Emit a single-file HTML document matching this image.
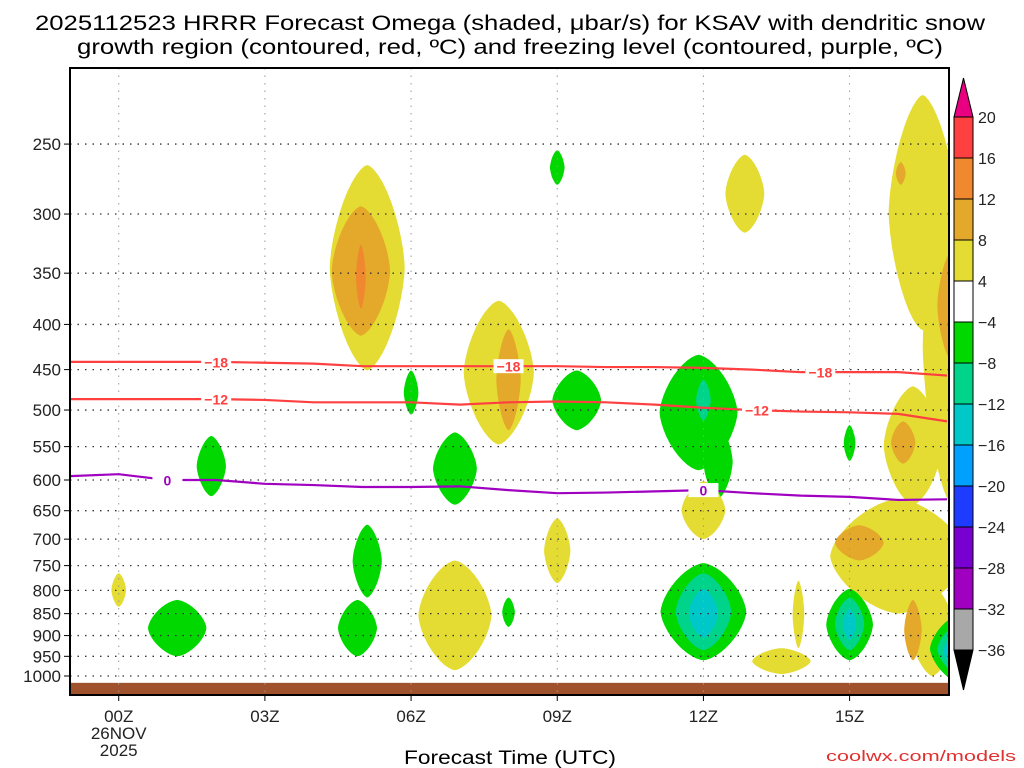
<!DOCTYPE html>
<html><head><meta charset="utf-8"><style>
html,body{margin:0;padding:0;background:#fff;}
svg{display:block;font-family:"Liberation Sans",sans-serif;}
</style></head><body>
<svg id="chart" width="1024" height="768" viewBox="0 0 1024 768" xmlns="http://www.w3.org/2000/svg">
<text x="35" y="30" font-size="21" textLength="950" lengthAdjust="spacingAndGlyphs">2025112523 HRRR Forecast Omega (shaded, μbar/s) for KSAV with dendritic snow</text>
<text x="77" y="54" font-size="21" textLength="866" lengthAdjust="spacingAndGlyphs">growth region (contoured, red, ºC) and freezing level (contoured, purple, ºC)</text>
<defs><clipPath id="plotclip"><rect x="70" y="68" width="879" height="627"/></clipPath></defs>
<g id="shades" clip-path="url(#plotclip)"></g>
<g id="grid"></g>
<g id="lines" clip-path="url(#plotclip)"></g>
<g id="axes"></g>
<g id="cbar"></g>
<text x="510" y="764" font-size="19" text-anchor="middle" textLength="212" lengthAdjust="spacingAndGlyphs">Forecast Time (UTC)</text>
<text x="1016" y="761" font-size="15" fill="#e03030" text-anchor="end" textLength="190" lengthAdjust="spacingAndGlyphs">coolwx.com/models</text>
</svg>
<script>
// ---- data ----
const pressureTicks = [250,300,350,400,450,500,550,600,650,700,750,800,850,900,950,1000];
const timeTicks = [0,3,6,9,12,15];
const timeTickLabels = ["00Z","03Z","06Z","09Z","12Z","15Z"];
const levelColors = ["#a8a8a8","#a000c0","#7800d0","#1e3cff","#00a0ff","#00c8c8","#00d48a","#00d800","#ffffff","#e4dc32","#e4a82a","#f08830","#ff4040"];
const levelLabels = ["20","16","12","8","4","−4","−8","−12","−16","−20","−24","−28","−32","−36"];
// blobs: center time (h), top pressure, bottom pressure, half-width (h), color index
const blobT   = [5.1,4.97,4.97, 7.8,8.0, 9.0, 12.85, 16.5,16.05, 17.1,17.1, 6.0, 9.4, 11.9,12.3,12.0, 15.0, 16.3,16.1, 1.9, 6.9, 12.0, 16.0,15.2, 9.0, 5.1, 4.9, 6.9, 8.0, 0.0, 1.2, 12.0,12.0,12.0, 13.95,13.6, 15.0,15.0,15.0, 16.7,16.3, 17.3,17.3,17.3,17.3, 17.2];
const blobPTop= [264,294,325, 376,405, 254, 257, 220,262, 280,330, 451, 451, 433,520,462, 520, 470,515, 535, 530, 602, 630,675, 663, 674, 820, 740, 815, 765, 820, 745,765,797, 780,930, 797,815,840, 790,820, 850,870,890,905, 200];
const blobPBot= [451,412,384, 547,527, 278, 315, 406,278, 640,440, 506, 527, 585,630,514, 571, 640,575, 626, 640, 700, 850,740, 785, 815, 950, 985, 880, 835, 950, 960,935,905, 930,995, 960,935,910, 1000,960, 1020,1000,985,975, 212];
const blobHW  = [0.77,0.6,0.1, 0.72,0.25, 0.15, 0.4, 0.7,0.1, 0.6,0.3, 0.15, 0.5, 0.8,0.3,0.15, 0.12, 0.6,0.25, 0.3, 0.45, 0.45, 1.4,0.5, 0.27, 0.3, 0.4, 0.75, 0.13, 0.15, 0.6, 0.88,0.57,0.3, 0.12,0.6, 0.48,0.3,0.13, 0.45,0.18, 0.65,0.5,0.38,0.22, 0.1];
const blobLevel=[9,10,11, 9,10, 7, 9, 9,10, 9,10, 7, 7, 7,7,6, 7, 9,10, 7, 7, 9, 9,10, 9, 7, 7, 9, 7, 9, 7, 7,6,5, 9,9, 7,6,5, 9,10, 7,6,5,3, 7];
// temperature contours: times and pressure of each isotherm
const lineTimes = [-1,0,1,2,3,4,5,6,7,8,9,10,11,12,13,14,15,16,17];
const isoM18 = [441,441,441,441,442,443,446,446,446,446,446,447,447,448,450,453,453,453,457];
const isoM12 = [486,486,486,486,487,490,490,490,493,490,489,490,493,497,500,502,503,505,515];
const iso0   = [594,591,600,600,606,608,611,611,610,616,621,620,618,616,621,625,627,632,631];
const labelM18 = [2,8,14.4];
const labelM12 = [2,13.1];
const label0 = [1,12];
// ---- axes ----
const X0=70,X1=949,Y0=68,Y1=695;
const tMin=-1, tMax=17.04;
const xs = t => X0 + (t - tMin)/(tMax - tMin)*(X1-X0);
const ys = p => 676 + 383.7*Math.log(p/1000);
const NS="http://www.w3.org/2000/svg";
function mk(tag, parent, attrs){const e=document.createElementNS(NS,tag);for(const k in attrs)e.setAttribute(k,attrs[k]);parent.appendChild(e);return e;}
const shades=document.getElementById('shades'), grid=document.getElementById('grid'), lines=document.getElementById('lines'), axes=document.getElementById('axes'), cbar=document.getElementById('cbar');
function blobPath(cx,cy,rx,ry){
  const n=48, ex=1.55; let d='';
  for(let k=0;k<n;k++){const a=k/n*2*Math.PI;const c=Math.cos(a),s=Math.sin(a);
    const x=cx+rx*Math.sign(c)*Math.pow(Math.abs(c),2/ex), y=cy+ry*Math.sign(s)*Math.pow(Math.abs(s),2/ex);
    d+=(k?'L':'M')+x.toFixed(1)+','+y.toFixed(1);}
  return d+'Z';
}
// blobs
for(let i=0;i<blobT.length;i++){
  const yt=ys(blobPTop[i]), yb=ys(blobPBot[i]);
  const e=mk('path',shades,{d:blobPath(xs(blobT[i]),(yt+yb)/2,blobHW[i]*(X1-X0)/(tMax-tMin),(yb-yt)/2),fill:levelColors[blobLevel[i]]});
  
  
}
// ground
const g=mk('rect',shades,{x:X0,y:ys(1018),width:X1-X0,height:Y1-ys(1018),fill:'#a0522d'});


// grid
pressureTicks.forEach(p=>{
  const l=mk('line',grid,{x1:X0,x2:X1,y1:ys(p),y2:ys(p),stroke:'#333','stroke-width':1.3,'stroke-dasharray':'1.5 6'});
  
  
  mk('line',axes,{x1:X0-6,x2:X0,y1:ys(p),y2:ys(p),stroke:'#000'});
  const t=mk('text',axes,{x:X0-9,y:ys(p)+6,'font-size':17,'text-anchor':'end',fill:'#222'});
  t.textContent=p;
  
  
});
timeTicks.forEach((h,i)=>{
  const l=mk('line',grid,{x1:xs(h),x2:xs(h),y1:Y0,y2:Y1,stroke:'#999','stroke-width':1,'stroke-dasharray':'1.5 6'});
  
  
  mk('line',axes,{x1:xs(h),x2:xs(h),y1:Y1,y2:Y1+6,stroke:'#000'});
  const t=mk('text',axes,{x:xs(h),y:722,'font-size':17,'text-anchor':'middle',fill:'#222'});
  t.textContent=timeTickLabels[i];
  
  
});
[["26NOV",739],["2025",756]].forEach(d=>{const t=mk('text',axes,{x:xs(0),y:d[1],'font-size':17,'text-anchor':'middle',fill:'#222'});t.textContent=d[0];
  
  });
const frame=mk('rect',axes,{x:X0,y:Y0,width:X1-X0,height:Y1-Y0,fill:'none',stroke:'#000','stroke-width':2});


// isotherms
function interp(arr,t){const i=Math.min(Math.floor(t-lineTimes[0]),arr.length-2);const f=t-lineTimes[i];return arr[i]+(arr[i+1]-arr[i])*f;}
function drawIso(arr,color,name,labels,txt){
  const pts=lineTimes.map((t,i)=>xs(t)+','+ys(arr[i])).join(' ');
  const pl=mk('polyline',lines,{points:pts,fill:'none',stroke:color,'stroke-width':2.2});
  
  
  labels.forEach(t=>{
    const x=xs(t),y=ys(interp(arr,t));
    mk('rect',lines,{x:x-15,y:y-7,width:30,height:14,fill:'#fff'});
    const tx=mk('text',lines,{x:x,y:y+5.5,'font-size':14,'font-weight':'bold','text-anchor':'middle',fill:color});
    tx.textContent=txt;
    
    
  });
}
drawIso(isoM18,'#ff4040','isotherm-minus-18',labelM18,'−18');
drawIso(isoM12,'#ff4040','isotherm-minus-12',labelM12,'−12');
drawIso(iso0,'#a000c0','freezing-level',label0,'0');
// colorbar
const cbX=954,cbW=19,cbTop=117,cbBox=41;
const tri=mk('polygon',cbar,{points:`${cbX},${cbTop} ${cbX+cbW},${cbTop} ${cbX+cbW/2},78`,fill:'#e80080',stroke:'#000'});


for(let k=0;k<13;k++){
  const r=mk('rect',cbar,{x:cbX,y:cbTop+k*cbBox,width:cbW,height:cbBox,fill:levelColors[12-k],stroke:'#000','stroke-width':1});
  
  
}
const tri2=mk('polygon',cbar,{points:`${cbX},${cbTop+13*cbBox} ${cbX+cbW},${cbTop+13*cbBox} ${cbX+cbW/2},690`,fill:'#000',stroke:'#000'});


levelLabels.forEach((s,k)=>{
  const t=mk('text',cbar,{x:978,y:cbTop+k*cbBox+6,'font-size':16,fill:'#222'});
  t.textContent=s;
  
  
});
</script>
</body></html>
